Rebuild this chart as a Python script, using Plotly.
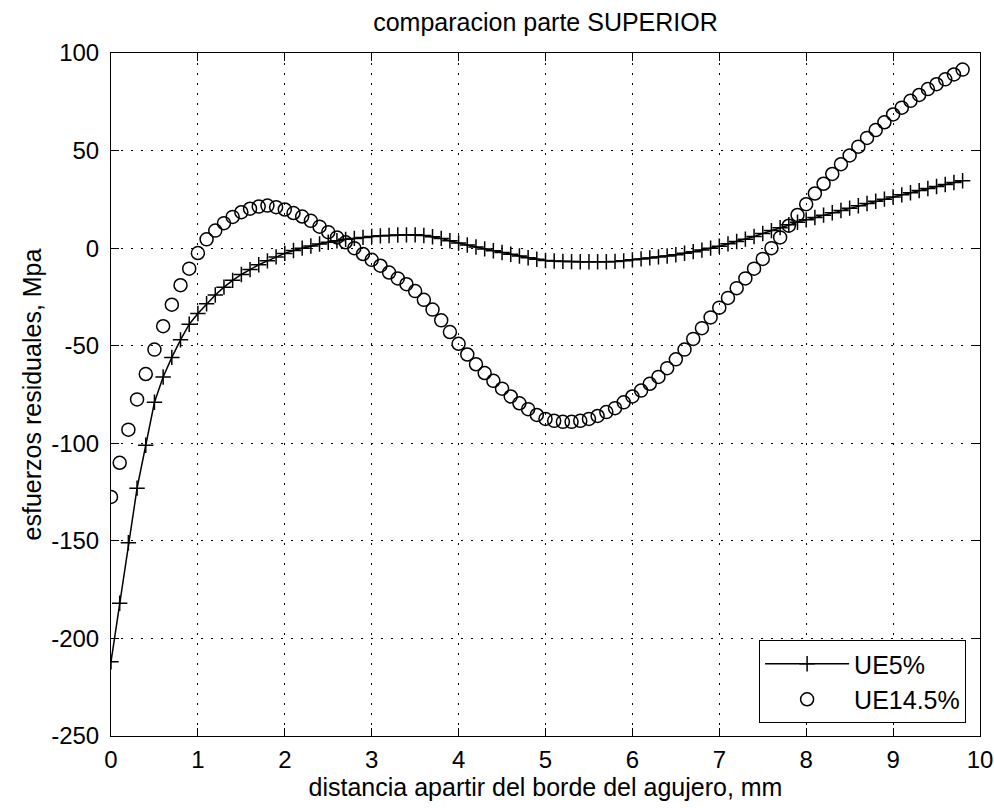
import plotly.graph_objects as go

# Distance from the hole edge (mm)
distancia = [
    0.0, 0.1, 0.2, 0.3, 0.4, 0.5, 0.6, 0.7, 0.8, 0.9,
    1.0, 1.1, 1.2, 1.3, 1.4, 1.5, 1.6, 1.7, 1.8, 1.9,
    2.0, 2.1, 2.2, 2.3, 2.4, 2.5, 2.6, 2.7, 2.8, 2.9,
    3.0, 3.1, 3.2, 3.3, 3.4, 3.5, 3.6, 3.7, 3.8, 3.9,
    4.0, 4.1, 4.2, 4.3, 4.4, 4.5, 4.6, 4.7, 4.8, 4.9,
    5.0, 5.1, 5.2, 5.3, 5.4, 5.5, 5.6, 5.7, 5.8, 5.9,
    6.0, 6.1, 6.2, 6.3, 6.4, 6.5, 6.6, 6.7, 6.8, 6.9,
    7.0, 7.1, 7.2, 7.3, 7.4, 7.5, 7.6, 7.7, 7.8, 7.9,
    8.0, 8.1, 8.2, 8.3, 8.4, 8.5, 8.6, 8.7, 8.8, 8.9,
    9.0, 9.1, 9.2, 9.3, 9.4, 9.5, 9.6, 9.7, 9.8,
]

# Residual stresses (MPa), UE 5 %
ue5 = [
    -212, -182, -151, -123, -101, -79, -66, -56, -47, -39,
    -33.5, -28.5, -24, -20, -16.5, -13.5, -11, -8.5, -6.5, -4.5,
    -2.7, -1.2, 0, 1.1, 2.1, 3, 3.8, 4.5, 5, 5.5,
    6, 6.3, 6.5, 6.7, 6.8, 6.8, 6.5, 5.8, 5, 3.8,
    2.6, 1.6, 0.6, -0.4, -1.3, -2.2, -3.1, -4, -4.9, -5.7,
    -6.3, -6.6, -6.8, -6.9, -7, -7, -7, -7, -6.8, -6.5,
    -6, -5.5, -5, -4.5, -4, -3.4, -2.6, -1.8, -1, 0,
    1, 2.2, 3.4, 4.6, 6, 7.5, 9, 10.5, 12, 13.3,
    14.5, 15.7, 16.9, 18.1, 19.3, 20.5, 21.7, 22.9, 24, 25.1,
    26.2, 27.3, 28.4, 29.5, 30.6, 31.6, 32.6, 33.6, 34.5,
]

# Residual stresses (MPa), UE 14.5 %
ue145 = [
    -127.5, -110, -93, -77.5, -64.5, -52, -40, -29, -19, -10.5,
    -2.5, 4.5, 9, 12.8, 16, 18.4, 20.2, 21.3, 21.8, 21,
    19.8, 18, 16.2, 14, 11, 8.2, 5.5, 3, 0, -3,
    -6, -9, -12.5, -15.5, -18.5, -22, -26.5, -31.5, -37, -43,
    -49, -54.5, -59.5, -64, -68, -72, -76, -79.5, -82.5, -85.5,
    -87.5, -88.5, -89, -89, -88.5, -87.5, -86, -84, -82, -79,
    -76, -73, -69.5, -66, -61.5, -57, -52, -46.5, -41, -35.5,
    -30.5, -25.5, -20.5, -15.5, -10.5, -5.5, 0, 5.5, 11.5, 17,
    22.5, 28, 33, 38, 43, 47.5, 52, 56.5, 60.5, 64.5,
    68.5, 72, 75.5, 78.5, 81.5, 84, 86.5, 89, 91.5,
]

# Axis ticks (labels written with a plain hyphen)
x_ticks = [0, 1, 2, 3, 4, 5, 6, 7, 8, 9, 10]
y_ticks = [-250, -200, -150, -100, -50, 0, 50, 100]
y_tick_text = ["-250", "-200", "-150", "-100", "-50", "0", "50", "100"]

FONT = "Liberation Sans, Arial, Helvetica, sans-serif"

fig = go.Figure()

fig.add_trace(go.Scatter(
    x=distancia, y=ue5, name="UE5%", mode="lines+markers",
    line=dict(color="black", width=1.5),
    marker=dict(symbol="cross-thin-open", size=11, color="black",
                line=dict(color="black", width=1.5)),
))

fig.add_trace(go.Scatter(
    x=distancia, y=ue145, name="UE14.5%", mode="markers",
    marker=dict(symbol="circle-open", size=13, color="black",
                line=dict(color="black", width=1.5)),
))

axis_common = dict(
    showline=True, linecolor="black", linewidth=1, mirror="ticks",
    ticks="inside", ticklen=8, tickwidth=1, tickcolor="black",
    showgrid=True, gridcolor="black", gridwidth=1, griddash="2px,8px",
    zeroline=False, tickfont=dict(family=FONT, size=24, color="black"),
    automargin=False,
)

fig.update_xaxes(
    range=[0, 10], tickmode="array", tickvals=x_ticks,
    ticktext=[str(v) for v in x_ticks], ticklabelstandoff=2,
    title=dict(text="distancia apartir del borde del agujero, mm",
               font=dict(family=FONT, size=25, color="black"), standoff=4),
    **axis_common,
)
fig.update_yaxes(
    range=[-250, 100], tickmode="array", tickvals=y_ticks,
    ticktext=y_tick_text, ticklabelstandoff=6,
    title=dict(text="esfuerzos residuales, Mpa",
               font=dict(family=FONT, size=25, color="black"), standoff=2),
    **axis_common,
)

fig.update_layout(
    width=994, height=808,
    margin=dict(l=111, r=14, t=53, b=72),
    paper_bgcolor="white", plot_bgcolor="white",
    font=dict(family=FONT, size=24, color="black"),
    title=dict(text="comparacion parte SUPERIOR", x=0.5, xref="paper",
               y=1 - 22 / 808, yref="container", yanchor="middle",
               xanchor="center",
               font=dict(family=FONT, size=25, color="black")),
    legend=dict(
        x=0.984, y=0.019, xanchor="right", yanchor="bottom",
        bgcolor="white", bordercolor="black", borderwidth=1,
        font=dict(family=FONT, size=25, color="black"),
        itemwidth=84, tracegroupgap=0,
    ),
    showlegend=True,
)

fig.write_html("out.html")
